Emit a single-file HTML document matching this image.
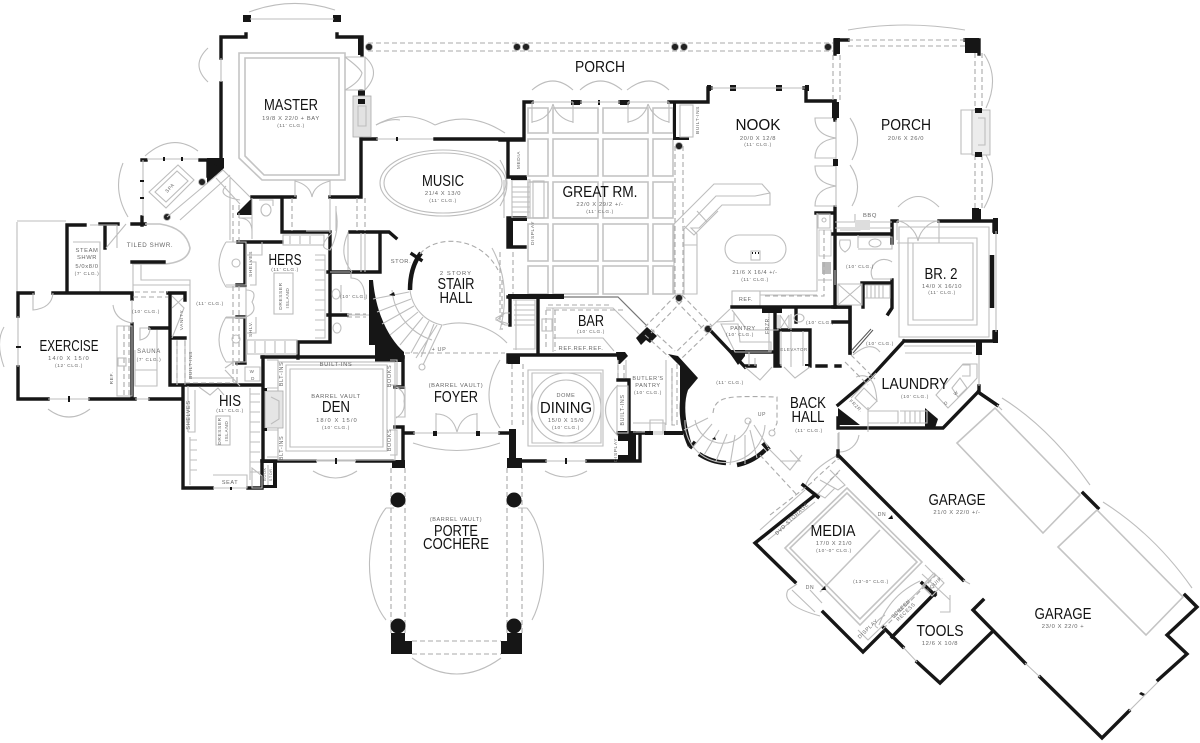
<!DOCTYPE html>
<html><head><meta charset="utf-8"><title>Floor plan</title>
<style>
html,body{margin:0;padding:0;background:#fff}
svg{display:block}
.w{fill:none;stroke:#161616;stroke-width:3.4;stroke-linecap:square;stroke-linejoin:miter}
.t{fill:none;stroke:#161616;stroke-width:4.5;stroke-linecap:butt}
.g{fill:none;stroke:#bdbdbd;stroke-width:1.1}
.h{fill:none;stroke:#c4c4c4;stroke-width:1.6}
.d{fill:none;stroke:#aaa;stroke-width:1.1;stroke-dasharray:5 3}
.k{fill:#161616;stroke:none}
.c{fill:#222;stroke:#aaa;stroke-width:.8}
text{font-family:"Liberation Sans",sans-serif;fill:#111;text-anchor:middle}
.n{font-size:16px}
.s{font-size:6.2px;fill:#666;letter-spacing:1.1px}
.x{font-size:4.8px;fill:#666;letter-spacing:.6px}
.l{font-size:7px;fill:#777;letter-spacing:.4px}
</style></head><body>
<svg width="1200" height="743" viewBox="0 0 1200 743" xmlns="http://www.w3.org/2000/svg">
<rect width="1200" height="743" fill="#fff"/>

<!-- rear porch -->
<path class="d" d="M368 43H833M368 51H833"/>
<g class="c"><circle cx="369" cy="47" r="3.5"/><circle cx="517" cy="47" r="3.5"/><circle cx="526" cy="47" r="3.5"/><circle cx="675" cy="47" r="3.5"/><circle cx="684" cy="47" r="3.5"/><circle cx="828" cy="47" r="3.5"/></g>

<!-- master -->
<path class="w" d="M221 58V37H246V34M221 83V168M337 34V37H362V55M361 91V96M361 138V197H330M376 139H361M252 197H295"/>
<path class="k" d="M243 15h8v7h-8zM333 15h8v7h-8zM358 38h5v17h-5zM358 90h7v6h-7zM207 158h17v10l-17 15zM237 213L252 198V215H237Z"/>
<path class="g" d="M250 19H334M249 12Q292 -4 335 10M208 48Q190 65 208 82M221 58V82"/>
<path class="h" d="M239 53H345V180H262L239 158ZM245 58H339V175H264L245 156Z"/>
<path class="g" d="M345 57H365V90H345M345 57Q360 68 362 73Q360 82 345 90M365 57Q382 72 365 90"/>
<path class="g" d="M295 180V197M330 180V197M295 181Q310 185 312 197Q314 185 330 181"/>
<rect x="353" y="96" width="18" height="41" fill="#e2e2e2" stroke="#aaa" stroke-width=".8"/>
<path class="k" d="M358 99h7v5h-7z"/>
<path class="g" d="M358 106H366V126H358ZM376 125Q390 118 400 120"/>
<path class="g" d="M376 139H435"/>
<path class="k" d="M396 137h2v4h-2z"/>

<!-- music -->
<path class="w" d="M435 139H522"/>
<ellipse class="g" cx="443" cy="183" rx="63" ry="33"/><ellipse class="g" cx="443" cy="183" rx="59" ry="30"/>
<path class="g" d="M376 125Q405 108 435 125M435 125Q470 110 505 133"/>
<path class="g" d="M500 160Q514 183 500 206"/>

<!-- spa -->
<path class="w" d="M142 160H146M200 160H208V176M142 217V225M132 224H145M67 225H85M100 224H118M105 224V248M67 225V292"/>
<path class="g" d="M147 159H198M143 160V216M145 156Q172 132 198 151M123 163Q112 190 128 217"/>
<path class="k" d="M163 157h2v4h-2zM181 157h2v4h-2zM140 180h4v2h-4zM140 197h4v2h-4zM207 162l17 6-17 15z"/>
<circle class="c" cx="202" cy="182" r="3.4"/><circle class="c" cx="167" cy="217" r="3.4"/>
<path class="g" d="M149 192L178 165L194 180L166 208ZM155 192L177 171L188 181L166 202Z"/>
<text class="x" transform="translate(171 189) rotate(-47)">SPA</text>
<path class="g" d="M167 217L223 170M180 220L230 175M223 170L250 197M216 178L240 204M226 186Q216 196 240 200"/>
<path class="g" d="M17 221H66M17 222V293M73 242H100V292M90 225H117V248M106 248L126 224M133 262V293M141 262V280H190V378H232M133 285H190"/>
<path class="h" d="M145 224H160Q186 228 190 248Q188 262 165 264H132"/>
<path class="w" d="M132 262H164"/>
<text class="x" style="font-size:6.2px" x="150" y="247">TILED SHWR.</text>
<text class="x" style="font-size:5.8px" x="87" y="252">STEAM</text><text class="x" style="font-size:5.8px" x="87" y="259">SHWR</text>
<text class="x" style="font-size:5.8px" x="87" y="268">5/0x8/0</text><text class="x" x="87" y="275">(7' CLG.)</text>

<!-- exercise -->
<path class="w" d="M18 316V293H33M53 293H132V299M18 367V399H48M90 399H135M150 399H183V488H212M248 488H262V461M132 324V399M150 328H168M168 293H185V300M170 293V385H260M170 338H185M183 400V385"/>
<path class="g" d="M33 293V310Q52 308 53 293M18 316V367M19 347H17M48 399H90M135 399H150M4 327Q-5 342 4 367M48 409Q69 425 90 409M113 305Q115 320 132 323V300M150 328H140V340Q150 338 150 328"/>
<path class="k" d="M16 346h5v2h-5zM68 396h2v6h-2z"/>
<path class="g" d="M117 326H132V396H117ZM135 370H157V386H135V350M157 330V385M177 340V385M185 340V385"/>
<path class="d" d="M124 326V395M129 326V395M135 292H168M133 297H168M177 341V385M185 341V385"/>
<path class="g" d="M172 296L184 308L172 338M183 298L172 308"/>
<rect x="118" y="358" width="8" height="8" class="g"/>
<text class="n" x="69" y="351" textLength="59" lengthAdjust="spacingAndGlyphs">EXERCISE</text>
<text class="s" x="69" y="360" style="font-size:5.8px">14/0 X 15/0</text><text class="x" x="69" y="367">(12' CLG.)</text>
<text class="x" x="146" y="313">(10' CLG.)</text><text class="x" style="font-size:6px" x="149" y="353">SAUNA</text><text class="x" x="149" y="361">(7' CLG.)</text>
<text class="x" x="210" y="305">(11' CLG.)</text>
<text class="x" transform="translate(113 378) rotate(-90)">REF.</text>
<text class="x" transform="translate(183 320) rotate(-90)">VANITY</text>
<text class="x" transform="translate(192 365) rotate(-90)">BUILT-INS</text>

<!-- hers -->
<path class="w" d="M282 198V232H330V342H298V358M238 242H282M245 242V285H237M245 317V363H237M237 317H245M262 357H403M328 272H380V233M350 232H389L396 238M328 315H347"/>
<path class="d" d="M233 205V242M239 205V242M233 286V363M239 286V363M292 198V231M357 198V231M365 198V231"/>
<path class="g" d="M230 178V240M239 218H252V232Q252 218 239 218M252 198V239M226 287H246V317H226M226 242H246V285H226M226 242Q212 265 226 287M226 317Q212 340 226 362M226 318H246V362H226"/>
<circle class="g" cx="236" cy="263" r="4"/><circle class="g" cx="236" cy="339" r="4"/>
<path class="g" d="M246 290Q258 290 252 302Q258 312 246 317M262 242V255H246M250 262H256V285H250M246 317V333H256V317"/>
<text class="x" transform="translate(252 264) rotate(-90)">SHELVES</text><text class="x" transform="translate(252 329) rotate(-90)">SHLV.</text>
<rect class="g" x="283" y="235" width="41" height="10" fill="none"/><rect class="g" x="247" y="340" width="50" height="14"/>
<path class="g" d="M315 255H325V338H315M315 260H325M315 270H325M315 280H325M315 290H325M315 300H325M315 310H325M315 320H325M315 330H325M290 236V244M300 236V244M310 236V244M255 341V353M265 341V353M275 341V353M285 341V353"/>
<rect class="g" x="274" y="273" width="19" height="41"/>
<text class="n" x="285" y="265" textLength="33" lengthAdjust="spacingAndGlyphs">HERS</text><text class="x" x="285" y="271">(11' CLG.)</text>
<g class="x"><text class="x" transform="translate(282 296) rotate(-90)">DRESSER</text><text class="x" transform="translate(289 298) rotate(-90)">ISLAND</text></g>
<ellipse class="g" cx="336" cy="294" rx="4" ry="5"/><ellipse class="g" cx="337" cy="328" rx="4" ry="5"/>
<path class="g" d="M341 285V312M330 198V233M336 206V231M351 272V278Q365 278 365 300M347 315H375M330 272H350M365 233V272M348 232V270M361 233V272M348 233Q338 255 352 272"/>
<path class="d" d="M347 314H366M347 317H366"/>
<text class="x" x="354" y="298">(10' CLG.)</text>
<ellipse class="g" cx="266" cy="210" rx="5" ry="6"/><path class="g" d="M259 200H273V206M306 231H330"/>
<path class="g" d="M336 211Q340 232 330 250Q316 248 332 233"/>

<!-- stair hall -->
<path class="k" d="M369 280L373 280C376 315 390 340 404 352V362H375V345H369Z"/>
<path class="t" d="M410 290C410 275 414 262 421 253"/>
<path class="w" d="M412 254L421 260"/>
<path class="g" d="M409 292L373 299M411 299L377 312M414 306L382 324M418 312L390 335M423 317L400 345M429 321L411 353M434 324L421 357M410 290A40 40 0 0 0 442 325L423 365M416 358L437 325M392 290A58 58 0 0 0 432 340"/>
<circle class="g" cx="422" cy="367" r="3"/>
<path class="g" d="M443 325C470 318 495 330 507 343"/>
<path class="d" d="M420 254C435 235 480 235 498 270M502 280V330"/>
<path class="g" d="M492 248Q512 285 500 330"/>
<path class="d" d="M405 353H505"/>
<path class="g" d="M505 325L497 320L505 313L510 313V325Z"/>
<path class="d" d="M500 252V320M513 252V297"/>
<text class="s" style="font-size:5.8px" x="456" y="275">2 STORY</text>
<text class="n" x="456" y="289" textLength="37" lengthAdjust="spacingAndGlyphs">STAIR</text>
<text class="n" x="456" y="303" textLength="33" lengthAdjust="spacingAndGlyphs">HALL</text>
<text class="x" x="439" y="351" style="font-size:5.5px">+ UP</text>
<text class="x" style="font-size:5.8px" x="401" y="263">STOR.</text>
<path class="k" d="M389 295l5-3 1 4z"/>

<!-- foyer / den -->
<path class="w" d="M263 357V460M262 461H315M357 461H392M403 357V387M403 427V462M403 433H413M500 433H510M395 387H403M395 427H403"/>
<path class="k" d="M392 460h13v8h-13z"/>
<rect x="278" y="362" class="g" width="117" height="98"/>
<path class="g" d="M290 369H383V447H290ZM286 365H387V451H286Z"/>
<path class="g" d="M316 461H356M313 471Q336 485 357 471"/>
<path class="k" d="M335 458h2v6h-2z"/>
<path class="g" d="M267 360H278V388H267M267 430H278V457H267M390 360H397V385H390M390 430H397V455H390"/>
<rect x="265" y="391" width="18" height="37" fill="#e5e5e5" stroke="#aaa" stroke-width=".8"/><path class="g" d="M271 397L279 401V419L271 424"/>
<path class="k" d="M262 388h5v3h-5zM262 428h5v3h-5z"/>
<text class="x" x="336" y="366" style="font-size:5.8px">BUILT-INS</text>
<text class="x" style="font-size:5.5px" transform="translate(283 374) rotate(-90)">BLT-INS</text>
<text class="x" style="font-size:5.5px" transform="translate(283 448) rotate(-90)">BLT-INS</text>
<text class="x" style="font-size:5.5px" transform="translate(391 376) rotate(-90)">BOOKS</text>
<text class="x" style="font-size:5.5px" transform="translate(391 440) rotate(-90)">BOOKS</text>
<text class="x" x="336" y="398" style="font-size:5.8px">BARREL VAULT</text>
<text class="n" x="336" y="412" textLength="28" lengthAdjust="spacingAndGlyphs">DEN</text>
<text class="s" x="337" y="422" style="font-size:5.8px">18/0 X 15/0</text><text class="x" x="336" y="429">(10' CLG.)</text>

<path class="g" d="M396 387H405V417H396M396 387Q406 392 404 401Q406 412 396 418M436 413V433M477 413V433M436 414C447 414 454 420 457 432C460 420 468 414 477 414M413 433H500M413 443Q457 458 500 443M500 360Q478 396 500 428"/>
<path class="k" d="M433 431h4v5h-4zM476 431h4v5h-4z"/>
<text class="x" style="font-size:5.8px" x="456" y="387">(BARREL VAULT)</text>
<text class="n" x="456" y="402" textLength="44" lengthAdjust="spacingAndGlyphs">FOYER</text>

<!-- his -->
<path class="g" d="M199 387L210 395L218 388L224 395M188 386V432M188 432H195V390M250 388V480M250 394H260M250 402H260M250 412H260M250 422H260M250 432H260M250 442H260M250 452H260M250 462H260M250 472H260M190 437V485M190 440H197M190 450H197M190 460H197M190 470H197M213 475H247V488H213"/>
<rect class="g" x="216" y="416" width="14" height="29"/>
<path class="k" d="M230 487h2v3h-2zM262 460h15v28h-15v-3h11v-22h-11z"/>
<path class="g" d="M252 468L262 476V488H252ZM268 465V485"/>
<path class="d" d="M233 361V384M237 361V384M185 383H241"/>
<path class="g" d="M225 368L235 361M225 370L240 386M245 367H260V381H245Z"/>
<text class="x" x="252" y="373" style="font-size:4.5px">W</text><text class="x" x="253" y="380" style="font-size:4.5px">D</text>
<text class="n" x="230" y="406" textLength="22" lengthAdjust="spacingAndGlyphs">HIS</text><text class="x" x="230" y="412">(11' CLG.)</text>
<text class="x" transform="translate(190 415) rotate(-90)" style="font-size:5.5px">SHELVES</text>
<text class="x" transform="translate(221 431) rotate(-90)">DRESSER</text><text class="x" transform="translate(228 431) rotate(-90)">ISLAND</text>
<text class="x" x="230" y="484" style="font-size:5.5px">SEAT</text>
<text class="x" transform="translate(266 474) rotate(-90)" style="font-size:3.8px">BOOK</text><text class="x" transform="translate(272 474) rotate(-90)" style="font-size:3.8px">STOR.</text>

<!-- porte cochere -->
<path class="d" d="M391 468V633M405 468V633M507 468V633M522 468V633M412 641H501M412 654H501"/>
<path class="k" d="M391 633H405V641H412V654H391ZM501 641H507V633H522V654H501Z"/>
<g class="k"><circle cx="398" cy="500" r="7.5"/><circle cx="514" cy="500" r="7.5"/><circle cx="398" cy="626" r="7.5"/><circle cx="514" cy="626" r="7.5"/></g>
<path class="g" d="M386 508H394M386 508C366 532 362 590 386 620M527 508H518M527 508C548 532 548 590 532 620M412 658Q457 690 501 658"/>
<path class="k" d="M507 458h15v10h-15z"/>
<text class="x" x="456" y="521" style="font-size:5.5px">(BARREL VAULT)</text>
<text class="n" x="456" y="536" textLength="44" lengthAdjust="spacingAndGlyphs">PORTE</text>
<text class="n" x="456" y="549" textLength="66" lengthAdjust="spacingAndGlyphs">COCHERE</text>

<!-- great room -->
<path class="w" d="M500 140H524V102H532M573 102H580M620 102H628V102M669 102H708V88H711M804 88H806V101H835V118M508 140V177H525M525 218H508V247H525"/>
<path class="k" d="M571 100h9v5h-9zM620 100h9v5h-9zM730 85h6v6h-6zM776 85h6v6h-6zM805 85h4v6h-4zM707 85h4v6h-4zM598 100h2v5h-2zM507 218h6v30h-6z"/>
<path class="g" d="M532 102H573M628 102H669M580 102H620M711 88H805"/>
<g class="h"><rect x="528" y="108" width="20" height="25"/><rect x="553" y="108" width="45" height="25"/><rect x="603" y="108" width="45" height="25"/><rect x="653" y="108" width="20" height="25"/>
<rect x="528" y="139" width="20" height="37"/><rect x="553" y="139" width="45" height="37"/><rect x="603" y="139" width="45" height="37"/><rect x="653" y="139" width="20" height="37"/>
<rect x="528" y="182" width="20" height="36"/><rect x="553" y="182" width="45" height="36"/><rect x="603" y="182" width="45" height="36"/><rect x="653" y="182" width="20" height="36"/>
<rect x="528" y="224" width="20" height="37"/><rect x="553" y="224" width="45" height="37"/><rect x="603" y="224" width="45" height="37"/><rect x="653" y="224" width="20" height="37"/>
<rect x="528" y="266" width="20" height="28"/><rect x="553" y="266" width="45" height="28"/><rect x="603" y="266" width="45" height="28"/><rect x="653" y="266" width="20" height="28"/></g>
<path class="g" d="M532 102V123M532 122C545 120 551 112 553 104M573 102V123M573 122C562 120 555 112 553 104M628 102V123M628 122C640 120 646 112 648 104M669 102V123M669 122C658 120 651 112 648 104M532 90Q553 72 573 90M580 90Q600 72 622 90M627 90Q650 72 669 90"/>
<rect class="g" x="512" y="180" width="18" height="38"/><path class="g" d="M512 187H530M512 192H530M512 197H530M512 202H530M512 207H530M512 212H530"/>
<rect class="g" x="533" y="181" width="11" height="37"/><path class="g" d="M504 180V218"/>
<path class="k" d="M511 177h16v3h-16zM511 218h16v3h-16z"/>
<text class="x" transform="translate(520 160) rotate(-90)">MEDIA</text>
<text class="x" transform="translate(534 233) rotate(-90)">DISPLAY</text>
<text class="n" x="600" y="197" textLength="75" lengthAdjust="spacingAndGlyphs">GREAT RM.</text>
<text class="x" x="600" y="206" style="font-size:5.8px">22/0 X 29/2 +/-</text><text class="x" x="600" y="213">(11' CLG.)</text>
<text class="n" x="600" y="72" textLength="50" lengthAdjust="spacingAndGlyphs">PORCH</text>
<path class="d" d="M675 146V294M683 146V294"/>
<path class="k" d="M676 102h-3v38h16v-3h-13z"/>
<rect class="g" x="680" y="105" width="13" height="32"/>
<circle class="c" cx="679" cy="146" r="3.5"/>
<text class="x" transform="translate(699 120) rotate(-90)">BUILT-INS</text>

<!-- bar -->
<path class="w" d="M510 297V325M508 297H548M538 298V354M508 355H623M508 355V362M587 461H640V433H630"/>
<path class="k" d="M508 294h56v5h-56zM508 354h12v10h-12zM509 429h7v38h-7z"/>
<path class="g" d="M509 324L496 320V318L505 313L510 313M513 300H535V349H513M516 300V350M514 305H535M514 310H535M514 315H535M514 320H535M514 325H535"/>
<path d="M564 297H618L647 326" fill="none" stroke="#777" stroke-width="1.2"/>
<path class="g" d="M546 308L613 308L644 339M553 308V338H603L614 351M553 338V352"/>
<path class="d" d="M548 305H612M546 310H623M546 347V310M555 310V351"/>
<rect class="g" x="542" y="319" width="10" height="12"/>
<text class="n" x="591" y="326" textLength="26" lengthAdjust="spacingAndGlyphs">BAR</text><text class="x" x="591" y="333">(10' CLG.)</text>
<text class="x" x="581" y="350" style="font-size:5.8px">REF.REF.REF.</text>

<!-- dining -->
<path class="k" d="M616 352H625L628 356L620 364H618ZM636 338l11-11 10 9-7 7-4-3-5 5z"/>
<path class="g" d="M618 360V380M626 360V380"/>
<path class="w" d="M512 461H545M618 380H629V433M618 433H645"/>
<path class="k" d="M618 431h18v30h-18v-6h10v-14h-10z"/>
<path class="d" d="M512 364V428M523 364V428M618 365V380M624 365V380"/>
<path class="g" d="M528 370H603V446H528ZM532 373H601V443H532ZM545 461H587M545 471Q566 483 587 471"/>
<path class="k" d="M565 458h2v6h-2z"/>
<circle class="g" cx="566" cy="408" r="35"/><circle class="g" cx="566" cy="408" r="28"/>
<rect class="g" x="617" y="386" width="11" height="47"/>
<path class="g" d="M618 385Q593 410 618 436"/>
<text class="x" transform="translate(624 410) rotate(-90)" style="font-size:5.5px">BUILT-INS</text>
<text class="x" transform="translate(617 450) rotate(-90)">DISPLAY</text>
<text class="x" x="566" y="397" style="font-size:5.5px">DOME</text>
<text class="n" x="566" y="413" textLength="52" lengthAdjust="spacingAndGlyphs">DINING</text>
<text class="x" x="566" y="422" style="font-size:5.8px">15/0 X 15/0</text><text class="x" x="566" y="429">(10' CLG.)</text>

<text class="x" x="648" y="380" style="font-size:5.5px">BUTLER'S</text><text class="x" x="648" y="387" style="font-size:5.5px">PANTRY</text><text class="x" x="648" y="394">(10' CLG.)</text>
<path class="g" d="M633 423H665V432M633 432H669M666 360V425M672 368V425M650 420H663V434H650Z"/>
<path class="d" d="M672 368V425L675 425M677 364V425"/>
<path class="k" d="M645 431h8v4h-8zM664 431h19v4h-19z"/>

<!-- octagon diagonals -->
<path class="d" d="M676 295L645 327M682 301L651 333M682 295L712 326M676 301L706 332M651 329L675 351M645 335L669 357M704 325L676 352M709 332L682 358"/>
<circle class="c" cx="679" cy="298" r="3.5"/><circle class="c" cx="708" cy="329" r="3.5"/>
<path class="k" d="M668 354L678 356L698 378L688 390Q681 410 692 445L688 447Q678 425 680 400V366Z"/>

<!-- nook / kitchen -->
<path class="w" d="M835 118V120M835 207V307M816 213H835"/>
<path class="g" d="M836 118H815Q815 135 836 138Q815 141 815 158H836M836 166H815Q815 183 836 186Q815 189 815 206H836M836 118V207"/>
<path class="g" d="M850 118Q864 138 852 160M850 165Q864 185 852 206"/>
<rect class="k" x="833" y="159" width="5" height="7"/>
<path class="g" d="M674 224L714 184H762L770 193V205H722L699 228H691L697 234V294H674ZM684 229L716 196H755L770 193M684 229V295M684 245H697"/>
<path class="g" d="M684 226L694 235L707 222L718 211M697 211L707 222"/>
<text class="n" x="758" y="130" textLength="45" lengthAdjust="spacingAndGlyphs">NOOK</text>
<text class="x" x="758" y="140" style="font-size:5.8px">20/0 X 12/8</text><text class="x" x="758" y="146">(11' CLG.)</text>
<rect class="g" x="725" y="235" width="61" height="28" rx="14"/>
<rect class="g" x="751" y="251" width="9" height="9"/><path class="k" d="M752 252h1v2h-1zM755 252h1v2h-1zM758 252h1v2h-1z"/>
<text class="x" x="755" y="274" style="font-size:5.5px">21/6 X 16/4 +/-</text><text class="x" x="755" y="281">(11' CLG.)</text>
<rect class="g" x="732" y="291" width="28" height="15"/>
<text class="x" x="746" y="301" style="font-size:5.5px">REF.</text>
<path class="g" d="M760 291H817V213M760 295H817M818 214H830V228H818ZM818 280H832"/>
<rect x="819" y="230" width="12" height="26" fill="#fff" stroke="#bbb" stroke-width=".8"/>
<rect x="822" y="262" width="9" height="12" fill="#bbb"/><circle class="g" cx="824" cy="220" r="2"/>
<path class="d" d="M824 230V296H762"/>

<path class="w" d="M732 307H850M709 329L745 367M745 366H755M775 366H780M775 307V366M743 352H775M778 330H810V366M778 330V366M840 366H836M796 307V322M850 307V353"/>
<path class="k" d="M762 307h20v6h-20zM805 366h4v-2h-4zM730 350h15v6l-7 9-9-13z"/>
<circle class="c" cx="708" cy="329" r="3.5"/>
<path class="g" d="M730 309L710 328M732 310L747 330H778V315M716 322L734 321V312M749 352V366M755 358V366M745 367L760 380L772 367M784 367L795 378L810 367M791 331V367M781 331V366M803 331V366"/>
<path class="g" d="M721 324H738L740 342H771L771 352H735ZM769 313V352M780 315V329M789 315V329M780 315L789 329M789 315L780 329M791 314V330"/>
<text class="x" x="743" y="330" style="font-size:5.5px">PANTRY</text><text class="x" x="740" y="336">(10' CLG.)</text>
<text class="x" transform="translate(769 325) rotate(-90)" style="font-size:5px">FRZR.</text>
<text class="x" x="794" y="351" style="font-size:4.4px">ELEVATOR</text>
<ellipse class="g" cx="799" cy="318" rx="5" ry="4"/><text class="x" x="820" y="324">(10' CLG.)</text>

<!-- bath / br2 -->
<path class="w" d="M833 234H892M892 221V243M892 280V308L888 314M863 283V307M862 283H892M892 221H897M939 221H994V231M904 341H994M904 341L870 378M975 216V221M994 332V341M833 307H850M833 322H848M850 307V353M817 366H826"/>
<path class="t" d="M992 255V308"/>
<path class="k" d="M993 218h5v16h-5zM972 208h7v12h-7zM993 330h5v13h-5zM976 341h6v14h-6z"/>
<path class="g" d="M835 222H892M835 228H892M855 214V222M897 221H939V243H897M897 221C905 221 916 230 918 241C920 230 930 221 939 221M897 240V221M835 270V285M838 284H862V305H838ZM838 284L862 305M862 284L838 305M840 222H860V230H840M858 235V248"/>
<rect x="855" y="220" width="15" height="10" fill="#ddd"/>
<path class="g" d="M865 285H890V298H865M867 285V298M871 285V298M875 285V298M879 285V298M883 285V298"/>
<path class="g" d="M840 240Q838 248 845 252Q852 248 850 240ZM858 237H892V249H858"/><ellipse class="g" cx="875" cy="243" rx="6" ry="4"/>
<path class="g" d="M892 262A13 13 0 0 0 873 279H892"/>
<text class="x" x="860" y="268">(10' CLG.)</text>
<path class="g" d="M899 227H989V337H899ZM908 238H977V325H908ZM913 243H973V320H913ZM996 231V332"/>
<text class="x" x="870" y="217" style="font-size:5.8px">BBQ</text>
<text class="n" x="941" y="279" textLength="33" lengthAdjust="spacingAndGlyphs">BR. 2</text>
<text class="x" x="942" y="288" style="font-size:5.8px">14/0 X 16/10</text><text class="x" x="942" y="294">(11' CLG.)</text>

<!-- right porch -->
<path class="w" d="M835 40H848M835 40V54M965 40H979V54M835 101V118"/>
<path class="k" d="M834 38h6v16h-6zM965 38h14v15h-14zM832 102h7v16h-7zM974 209h7v12h-7z"/>
<circle class="c" cx="828" cy="47" r="3.5"/>
<path class="d" d="M848 40H965M848 46H965M833 55V100M840 55V100M975 53V110M982 53V110M975 155V209M982 155V209"/>
<path class="g" d="M848 30Q905 20 965 30M984 54Q1000 78 986 108M986 155Q1000 180 984 208M898 207Q918 186 939 207"/>
<path class="g" d="M961 110H972V154H961Z"/>
<rect x="972" y="110" width="18" height="45" fill="#ececec" stroke="#aaa" stroke-width=".8"/>
<path class="k" d="M975 108h7v5h-7zM975 152h7v5h-7z"/>
<path class="g" d="M978 118H985V145H978"/>
<text class="n" x="906" y="130" textLength="50" lengthAdjust="spacingAndGlyphs">PORCH</text>
<text class="x" x="906" y="140" style="font-size:5.8px">20/6 X 26/0</text>

<!-- laundry -->
<path class="w" d="M978 392L943 428H838M838 405L870 378M838 428V418M978 392L997 405M979 386V392"/>
<path class="k" d="M838 408L860 425H838ZM925 408L938 419L935 428H925Z"/>
<path class="g" d="M851 398L876 373M855 398L868 410L877 401L864 388ZM868 407L868 432M868 411H898V423H868M900 411H927V423H900M905 411V423M910 411V423M915 411V423M920 411V423M877 402Q875 370 856 377"/>
<path class="g" d="M904 346H975M905 353H972M962 365H970V376H962M963 364H977V378L966 390L948 408L936 395ZM952 388L960 378L967 388L958 397ZM979 355V386"/>
<text class="n" x="915" y="389" textLength="67" lengthAdjust="spacingAndGlyphs">LAUNDRY</text><text class="x" x="915" y="398">(10' CLG.)</text>
<text class="x" x="880" y="345">(10' CLG.)</text>
<path d="M853 353L873 330M851 351L871 329" fill="none" stroke="#555" stroke-width="1"/>
<path class="g" d="M853 355Q871 340 880 352"/>
<path class="d" d="M851 355L875 379M845 362L868 385"/>
<text class="x" transform="translate(855 407) rotate(44)" style="font-size:4.5px">FRZR.</text>
<text class="x" x="947" y="404" transform="rotate(-44 947 404)" style="font-size:4.5px">D</text>
<text class="x" x="957" y="394" transform="rotate(-44 957 394)" style="font-size:4.5px">W</text>

<!-- back stair -->
<path class="w" d="M691 447L694 443"/>
<path class="t" d="M699 454A55 55 0 0 0 726 463M737 465A55 55 0 0 0 765 450M763 443L769 450"/>
<path class="d" d="M713 413C715 395 730 396 777 397V423L774 430"/>
<path class="g" d="M750 421A28 28 0 0 1 695 420M765 425A40 40 0 0 1 685 420M684 430L708 418M693 447L712 424M704 455L719 430M716 461L727 434M730 465L735 435M745 464L745 435M757 458L750 430M768 447L754 425"/>
<circle class="g" cx="748" cy="421" r="3"/><circle class="g" cx="772" cy="433" r="3"/>
<path class="k" d="M712 439l3-2 1 3z"/>
<text class="x" x="762" y="416" style="font-size:5px">UP</text>
<text class="x" x="730" y="384">(11' CLG.)</text>
<text class="n" x="808" y="408" textLength="36" lengthAdjust="spacingAndGlyphs">BACK</text>
<text class="n" x="808" y="422" textLength="33" lengthAdjust="spacingAndGlyphs">HALL</text>
<text class="x" x="809" y="432">(11' CLG.)</text>
<path class="g" d="M768 448L790 470L802 455M790 450L800 461H780M839 432V460M839 452A20 20 0 0 0 859 435M838 460V433"/>
<path class="g" d="M805 487Q810 470 838 455M817 495L840 470M805 487L825 498L835 488"/>
<path class="d" d="M760 455L797 495M814 480L836 460"/>

<!-- media / garage walls -->
<path class="w" d="M838 455L963 580M838 456V451M815 495L755 543L795 582M803 485L818 497M823 612L863 652L883 632M883 627L903 647M892 637L935 593M922 583L935 595M973 610L983 600M973 610L1025 663M992 632L940 683L917 662M1040 677L1102 738L1129 711M1158 680L1187 654L1167 635L1197 607L1185 595M997 405L978 392M1083 493L1098 508"/>
<path class="g" d="M1025 663L1040 677M1129 711L1158 682M903 647L917 662M997 405L1002 410M963 580L970 584"/>
<path class="k" d="M1141 692l4 2-2 2-4-2z"/>
<path class="h" d="M957 443L995 408L1080 495L1043 533ZM1058 547L1097 510L1183 597L1146 635Z"/>
<path class="g" d="M1002 398Q1050 428 1090 485M1103 502Q1155 535 1192 588"/>
<path class="h" d="M847 488L922 562L860 625L785 548ZM847 493L917 562L860 619L790 548ZM880 530L820 592"/>
<path class="d" d="M770 515L815 480M830 480L838 473M883 629L936 575"/>
<path class="g" d="M760 530L805 490M768 540L815 502M858 630L868 640L935 575L925 565"/>
<path class="g" d="M797 584L788 590Q780 605 820 616M792 590L815 612M810 590L822 603"/>
<path class="g" d="M922 586L932 596L944 583L934 573ZM922 574L950 600M950 595V612H940"/>
<path class="g" d="M885 615Q870 625 878 628M879 625Q890 595 920 581"/>
<path class="g" d="M830 470L845 485L838 490L820 480"/>
<path class="k" d="M888 519l4-4 1 4zM821 590l4-4 1 4z"/>
<text class="x" x="882" y="516" style="font-size:5px">DN</text><text class="x" x="810" y="589" style="font-size:5px">DN</text>
<text class="x" style="font-size:5.2px" transform="translate(793 520) rotate(-44)">DVD STORAGE</text>
<text class="x" style="font-size:5.2px" transform="translate(869 630) rotate(-44)">DISPLAY</text>
<text class="x" style="font-size:5px" transform="translate(902 610) rotate(-44)">SCREEN</text><text class="x" style="font-size:5px" transform="translate(907 613) rotate(-44)">RECESS</text>
<text class="x" style="font-size:5px" transform="translate(936 585) rotate(-44)">EQUIP.</text>
<text class="n" x="833" y="536" textLength="45" lengthAdjust="spacingAndGlyphs">MEDIA</text>
<text class="x" x="834" y="545" style="font-size:5.8px">17/0 X 21/0</text><text class="x" x="834" y="552">(10'-0" CLG.)</text>
<text class="x" x="871" y="583">(13'-0" CLG.)</text>
<text class="n" x="957" y="505" textLength="57" lengthAdjust="spacingAndGlyphs">GARAGE</text>
<text class="x" x="957" y="514" style="font-size:5.8px">21/0 X 22/0 +/-</text>
<text class="n" x="1063" y="619" textLength="57" lengthAdjust="spacingAndGlyphs">GARAGE</text>
<text class="x" x="1063" y="628" style="font-size:5.8px">23/0 X 22/0 +</text>
<text class="n" x="940" y="636" textLength="47" lengthAdjust="spacingAndGlyphs">TOOLS</text>
<text class="x" x="940" y="645" style="font-size:5.8px">12/6 X 10/8</text>

<!-- master text -->
<text class="n" x="291" y="110" textLength="54" lengthAdjust="spacingAndGlyphs">MASTER</text>
<text class="x" x="291" y="120" style="font-size:5.8px">19/8 X 22/0 + BAY</text><text class="x" x="291" y="127">(11' CLG.)</text>
<text class="n" x="443" y="186" textLength="42" lengthAdjust="spacingAndGlyphs">MUSIC</text>
<text class="x" x="443" y="195" style="font-size:5.8px">21/4 X 13/0</text><text class="x" x="443" y="202">(11' CLG.)</text>
</svg>
</body></html>
